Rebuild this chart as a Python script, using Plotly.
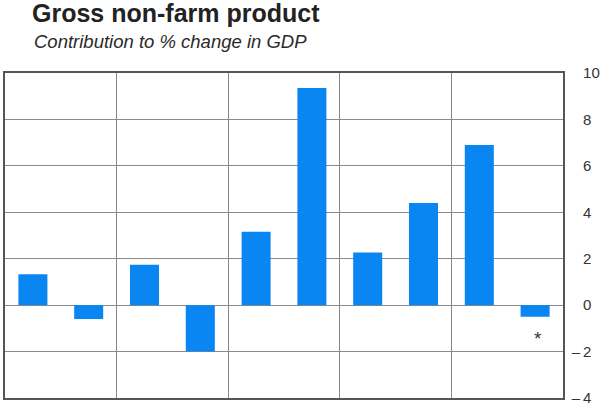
import plotly.graph_objects as go

# Data
categories = list(range(10))
values = [1.33, -0.60, 1.74, -2.00, 3.16, 9.35, 2.27, 4.40, 6.90, -0.50]
group_boundaries = [1.5, 3.5, 5.5, 7.5]
y_tickvals = [-4, -2, 0, 2, 4, 6, 8, 10]
y_ticktext = ["\u2013\u20094", "\u2013\u20092", "\u2007\u20090", "\u2007\u20092",
              "\u2007\u20094", "\u2007\u20096", "\u2007\u20098", "\u2007\u200910"]
note_text = "*"
note_x = 9.05
note_y = -1.45

title_text = "<b>Gross non-farm product</b>"
subtitle_text = "<i>Contribution to % change in GDP</i>"

fig = go.Figure()
fig.add_trace(go.Bar(
    x=categories, y=values,
    marker=dict(color="#0a86f2", line=dict(width=0)),
    width=0.52,
    hoverinfo="y",
))

fig.add_annotation(
    x=note_x, y=note_y, xref="x", yref="y", text=note_text, showarrow=False,
    font=dict(family="Liberation Sans, Arial, sans-serif", size=19, color="#333"),
)

fig.add_annotation(
    xref="paper", yref="paper", x=(32 - 5) / 558, y=(398.5 - 28) / 326,
    xanchor="left", yanchor="top", text=subtitle_text, showarrow=False,
    font=dict(family="Liberation Sans, Arial, sans-serif", size=18.5, color="#2a2a2a"),
)

fig.update_layout(
    width=600, height=408,
    margin=dict(l=5, r=37, t=72.5, b=9.5, autoexpand=False),
    paper_bgcolor="white", plot_bgcolor="white",
    showlegend=False,
    bargap=0.48,
    title=dict(
        text=title_text, x=32 / 600, xanchor="left", xref="container",
        y=1 - 4 / 408, yanchor="top", yref="container",
        font=dict(family="Liberation Sans, Arial, sans-serif", size=25, color="#222"),
    ),
    xaxis=dict(
        range=[-0.5, 9.5], tickvals=group_boundaries, showticklabels=False,
        showgrid=True, gridcolor="#8a8a8a", gridwidth=1,
        zeroline=False, ticks="",
        showline=True, linecolor="#555", linewidth=1.5, mirror=True,
    ),
    yaxis=dict(
        range=[-4, 10], side="right", tickvals=y_tickvals, ticktext=y_ticktext,
        showgrid=True, gridcolor="#8a8a8a", gridwidth=1,
        zeroline=True, zerolinecolor="#8a8a8a", zerolinewidth=1,
        ticks="", ticklabelstandoff=4,
        showline=True, linecolor="#555", linewidth=1.5, mirror=True,
        tickfont=dict(family="Liberation Sans, Arial, sans-serif", size=15, color="#333"),
    ),
)

fig.write_html(
    "out.html",
    config={"displayModeBar": False},
    post_script="document.body.style.margin='0';document.body.style.padding='0';",
)
